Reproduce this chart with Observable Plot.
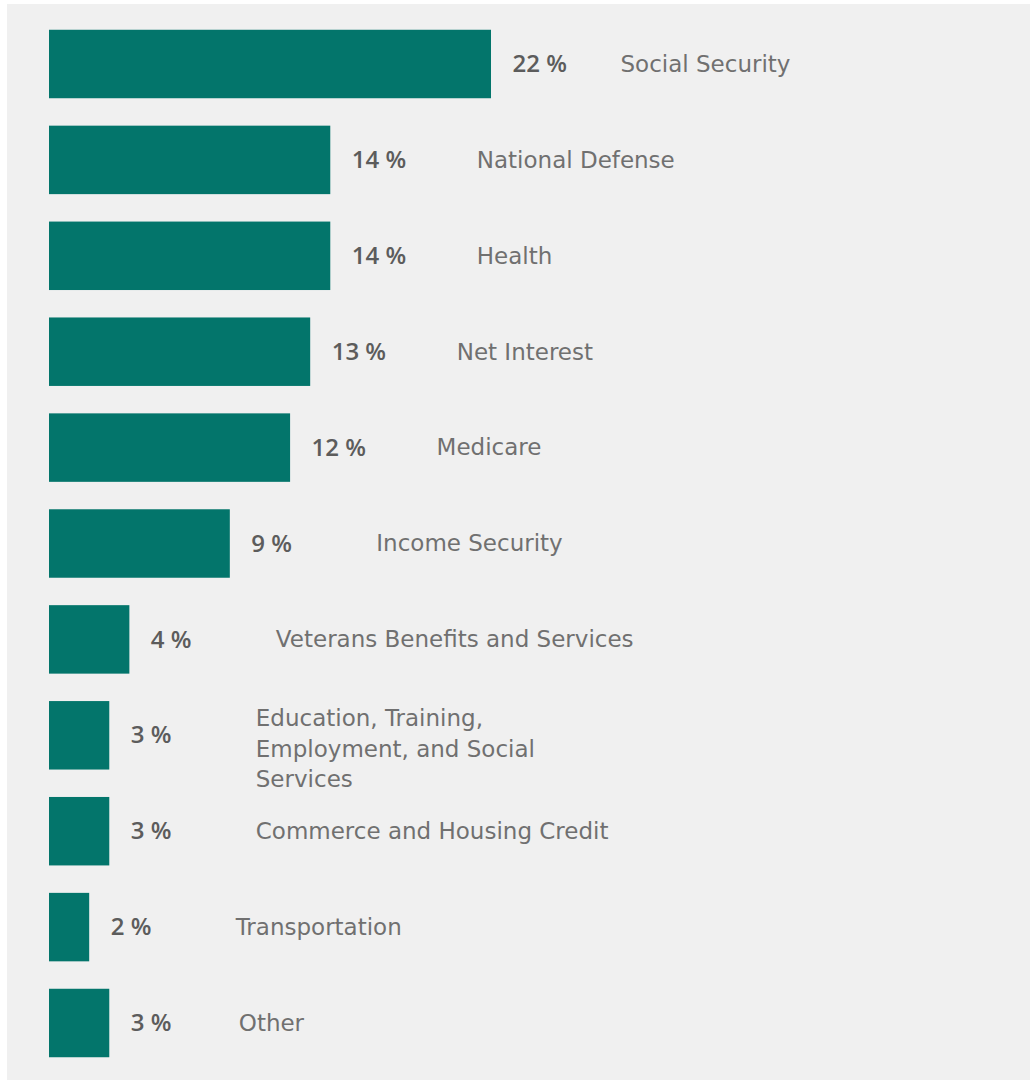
<!DOCTYPE html>
<html>
<head>
<meta charset="utf-8">
<script src="https://cdn.jsdelivr.net/npm/d3@7"></script>
<script src="https://cdn.jsdelivr.net/npm/@observablehq/plot@0.6"></script>
<style>
  html, body { margin: 0; padding: 0; background: #ffffff; }
  #panel { position: absolute; left: 7px; top: 4px; width: 1023px; height: 1076px; background: #f0f0f0; }
  #panel svg { display: block; }
</style>
</head>
<body>
<div id="panel"></div>
<script>
const categories = [
  "Social Security",
  "National Defense",
  "Health",
  "Net Interest",
  "Medicare",
  "Income Security",
  "Veterans Benefits and Services",
  "Education, Training, Employment, and Social Services",
  "Commerce and Housing Credit",
  "Transportation",
  "Other"
];
const displayLabels = [
  "Social Security",
  "National Defense",
  "Health",
  "Net Interest",
  "Medicare",
  "Income Security",
  "Veterans Benefits and Services",
  "Education, Training,\nEmployment, and Social\nServices",
  "Commerce and Housing Credit",
  "Transportation",
  "Other"
];
const shares = [22, 14, 14, 13, 12, 9, 4, 3, 3, 2, 3];

const data = categories.map((c, i) => ({category: c, label: displayLabels[i], value: shares[i]}));
// labels sitting a little closer to their value label in the original layout
const nearSet = new Set(["Social Security", "Other"]);
const near = data.filter(d => nearSet.has(d.category));
const single = data.filter(d => !d.label.includes("\n") && !nearSet.has(d.category));
const multi = data.filter(d => d.label.includes("\n"));

const labelFont = "'DejaVu Sans', 'Open Sans', sans-serif";
const pctFont = "'Open Sans', 'Noto Sans', sans-serif";
const labelStyle = {x: "value", y: "category", text: "label", textAnchor: "start", fontSize: 23, fontFamily: labelFont, fill: "#707070"};

const chart = Plot.plot({
  width: 1023,
  height: 1076,
  marginTop: 0, marginBottom: 0, marginLeft: 0, marginRight: 0,
  style: {background: "transparent"},
  x: {domain: [0, 22], range: [42, 484], axis: null},
  y: {domain: categories, range: [12.05, 1066.95], paddingInner: 0.286, paddingOuter: 0.143, round: false, axis: null},
  marks: [
    Plot.barX(data, {x: "value", y: "category", fill: "#03756b"}),
    Plot.text(data, {
      x: "value", y: "category", text: d => `${d.value} %`,
      textAnchor: "start", dx: 21, fontSize: 24, fontWeight: 600, fontFamily: pctFont, fill: "#5c5c5c"
    }),
    Plot.text(single, {...labelStyle, dx: 146}),
    Plot.text(near, {...labelStyle, dx: 129}),
    Plot.text(multi, {...labelStyle, dx: 146, dy: 11, lineHeight: 1.33})
  ]
});
document.getElementById("panel").appendChild(chart);
</script>
</body>
</html>
